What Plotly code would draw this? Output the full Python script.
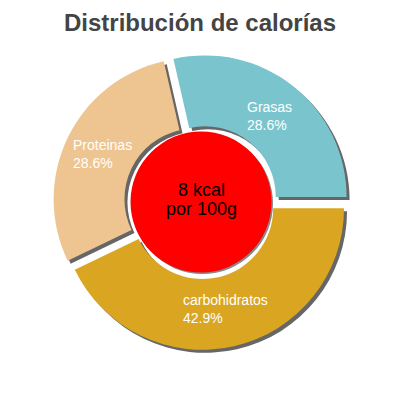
import math
import plotly.graph_objects as go

labels = ["Grasas", "carbohidratos", "Proteinas"]
values = [28.6, 42.9, 28.6]
colors = ["#7AC5CD", "#DAA520", "#EEC591"]
energy_text = ["8 kcal", "por 100g"]
title = "Distribución de calorías"

W = H = 400
OFF = 8  # page body margin, the figure sits 8px right/down


def px(x):
    return (x - OFF) / W


def py(y):
    return 1 - (y - OFF) / H


# pie geometry in screen pixels
cx, cy = 201, 202
half = 148
shadow = 3
pull = 0.045
r = half / (1 + pull)
start = 90 - 360 * values[0] / sum(values)

fig = go.Figure()

# shadow pie
fig.add_trace(go.Pie(
    labels=labels, values=values, sort=False, direction="clockwise",
    rotation=start, pull=pull, hole=0.5,
    marker=dict(colors=["#666666"] * 3, line=dict(width=0)),
    textinfo="none", hoverinfo="skip", showlegend=False,
    domain=dict(x=[px(cx - half + shadow), px(cx + half + shadow)],
                y=[py(cy + half + shadow), py(cy - half + shadow)]),
))

fig.add_trace(go.Pie(
    labels=labels, values=values, sort=False, direction="clockwise",
    rotation=start, pull=pull, hole=0.5,
    marker=dict(colors=colors, line=dict(width=0)),
    textinfo="none", showlegend=False,
    domain=dict(x=[px(cx - half), px(cx + half)],
                y=[py(cy + half), py(cy - half)]),
))

# slice labels, left aligned blocks at the middle of each ring segment
total = sum(values)
acc = start
for lab, v in zip(labels, values):
    mid = math.radians(acc + 180 * v / total)
    acc += 360 * v / total
    rt = pull * r + 0.73 * r
    fig.add_annotation(
        text=f"{lab}<br>{100 * v / total:.1f}%", align="left",
        x=px(cx + rt * math.sin(mid)), y=py(cy - rt * math.cos(mid)),
        xref="paper", yref="paper", showarrow=False,
        xanchor="center", yanchor="middle",
        font=dict(size=14, color="white", family="Arial"))

# red centre disc with a faint shadow
rad = 70.5
fig.add_shape(type="circle", xref="paper", yref="paper", layer="above",
              x0=px(cx - rad + 1.5), x1=px(cx + rad + 1.5),
              y0=py(cy + rad + 1.5), y1=py(cy - rad + 1.5),
              fillcolor="#888888", line=dict(width=0))
fig.add_shape(type="circle", xref="paper", yref="paper", layer="above",
              x0=px(cx - rad), x1=px(cx + rad), y0=py(cy + rad), y1=py(cy - rad),
              fillcolor="#FF0000", line=dict(width=0))

for i, t in enumerate(energy_text):
    fig.add_annotation(text=t, xref="paper", yref="paper", showarrow=False,
                       x=px(cx), y=py(190 + 19 * i), xanchor="center", yanchor="middle",
                       font=dict(size=18, color="black", family="Arial"))

fig.update_layout(
    width=W, height=H,
    margin=dict(l=0, r=0, t=0, b=0),
    paper_bgcolor="white", plot_bgcolor="white",
    title=dict(text=f"<b>{title}</b>", x=px(200), xanchor="center",
               y=py(23), yanchor="middle", yref="container",
               font=dict(size=24, color="#444444", family="Arial")),
)

fig.write_html("out.html")
